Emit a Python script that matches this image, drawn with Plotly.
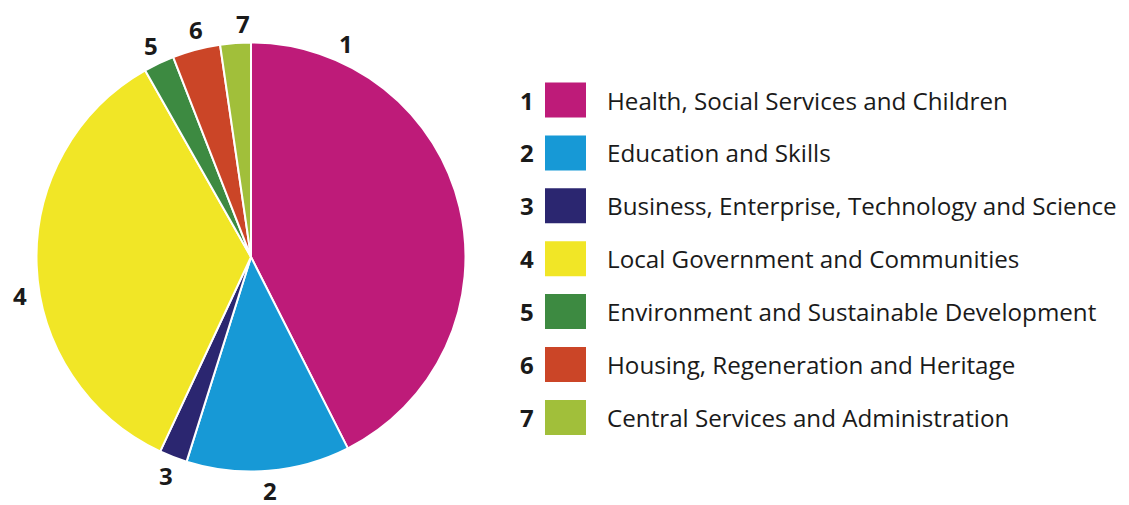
import math
import plotly.graph_objects as go

# ---- data ----
numbers = ["1", "2", "3", "4", "5", "6", "7"]
categories = [
    "Health, Social Services and Children",
    "Education and Skills",
    "Business, Enterprise, Technology and Science",
    "Local Government and Communities",
    "Environment and Sustainable Development",
    "Housing, Regeneration and Heritage",
    "Central Services and Administration",
]
values = [42.5, 12.3, 2.1, 34.8, 2.3, 3.6, 2.3]
colors = ["#BE1B79", "#1799D6", "#2B2670", "#F1E626", "#3D8A41", "#CB4527", "#A1BF3A"]

# ---- layout constants (page pixels; the page body adds an 8px offset) ----
W, H = 1129, 505
OFF = 8
CX, CY, R = 251 - OFF, 257 - OFF, 214.5
LABEL_R = 234
FONT = "Open Sans"
TXT = "#1a1a1a"

fig = go.Figure(go.Pie(
    values=values,
    labels=categories,
    marker=dict(colors=colors, line=dict(color="white", width=2)),
    sort=False,
    direction="clockwise",
    rotation=0,
    textinfo="none",
    hoverinfo="label+percent",
    showlegend=False,
    domain=dict(x=[(CX - R) / W, (CX + R) / W], y=[(H - CY - R) / H, (H - CY + R) / H]),
))

annotations = []
# slice number labels, placed outside the pie near each slice's mid-angle
total = sum(values)
cum = 0.0
label_angle_override = {0: 24.0, 3: 260.5, 5: 346.5, 6: 358.0}
for i, v in enumerate(values):
    mid = (cum + v / 2) / total * 360.0
    cum += v
    ang = math.radians(label_angle_override.get(i, mid))
    px = CX + LABEL_R * math.sin(ang)
    py = CY - LABEL_R * math.cos(ang)
    annotations.append(dict(
        x=px / W, y=(H - py) / H, xref="paper", yref="paper",
        text="<b>" + numbers[i] + "</b>", showarrow=False,
        font=dict(family=FONT, size=24, color=TXT),
        xanchor="center", yanchor="middle",
    ))

# custom legend: number, colour square, label
LEG_Y0, LEG_STEP = 100 - OFF, 52.9
NUM_X, SQ_X0, SQ_X1, SQ_H, TXT_X = 527 - OFF, 545 - OFF, 586 - OFF, 35, 605 - OFF
shapes = []
for i in range(len(categories)):
    yc = LEG_Y0 + i * LEG_STEP
    shapes.append(dict(
        type="rect", xref="paper", yref="paper",
        x0=SQ_X0 / W, x1=SQ_X1 / W,
        y0=(H - (yc + SQ_H / 2)) / H, y1=(H - (yc - SQ_H / 2)) / H,
        fillcolor=colors[i], line=dict(width=0),
    ))
    annotations.append(dict(
        x=NUM_X / W, y=(H - yc) / H, xref="paper", yref="paper",
        text="<b>" + numbers[i] + "</b>", showarrow=False,
        font=dict(family=FONT, size=24, color=TXT),
        xanchor="center", yanchor="middle",
    ))
    annotations.append(dict(
        x=TXT_X / W, y=(H - yc) / H, xref="paper", yref="paper",
        text=categories[i], showarrow=False,
        font=dict(family=FONT, size=24.2, color=TXT),
        xanchor="left", yanchor="middle",
    ))

fig.update_layout(
    width=W, height=H,
    margin=dict(l=0, r=0, t=0, b=0),
    paper_bgcolor="white", plot_bgcolor="white",
    annotations=annotations, shapes=shapes,
)

fig.write_html("out.html")
